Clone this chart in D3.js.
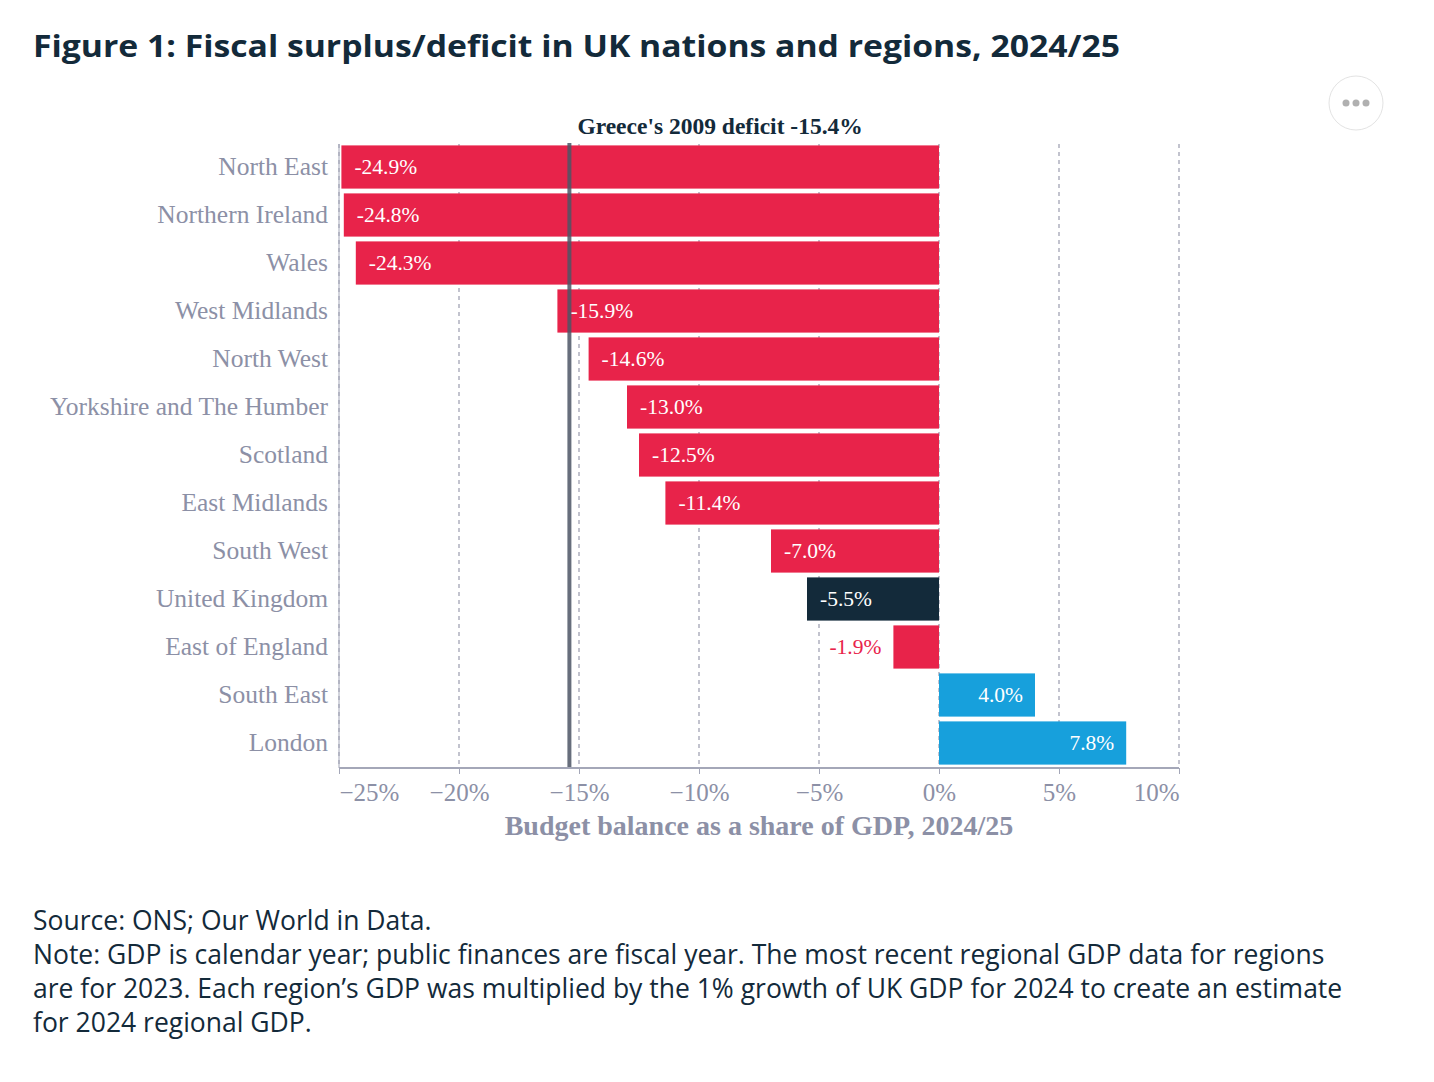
<!DOCTYPE html>
<html><head><meta charset="utf-8">
<script src="https://cdn.jsdelivr.net/npm/d3@7/dist/d3.min.js"></script>
<style>body{margin:0;background:#fff}</style>
</head><body><svg id="c" width="1434" height="1082"></svg>
<script>
// chart data
const regions = ["North East","Northern Ireland","Wales","West Midlands","North West","Yorkshire and The Humber","Scotland","East Midlands","South West","United Kingdom","East of England","South East","London"];
const balance = [-24.9,-24.8,-24.3,-15.9,-14.6,-13.0,-12.5,-11.4,-7.0,-5.5,-1.9,4.0,7.8];
const ticks = [-25,-20,-15,-10,-5,0,5,10];
const greece = -15.4;

const svg = d3.select("#c");
const serif = "'Liberation Serif','Times New Roman',serif";
const sans = "'Open Sans','Noto Sans',sans-serif";
const grey = "#8c90a6";

svg.append("text").attr("x",33).attr("y",57).attr("font-family",sans).attr("font-weight",700)
  .attr("font-size",31).attr("fill","#132a3a").attr("textLength",1087).attr("lengthAdjust","spacingAndGlyphs")
  .text("Figure 1: Fiscal surplus/deficit in UK nations and regions, 2024/25");

// menu button
svg.append("circle").attr("cx",1356).attr("cy",103).attr("r",27).attr("fill","#fff").attr("stroke","#e3e3e3");
[-10,0,10].forEach(d=>svg.append("circle").attr("cx",1356+d).attr("cy",103).attr("r",3.5).attr("fill","#b0b0b0"));

const x = d3.scaleLinear().domain([-25,10]).range([339,1179]);
const y = d3.scaleBand().domain(regions).range([143,767]).paddingInner(0.1).paddingOuter(0.05);

const g = svg.append("g");
g.selectAll("line.grid").data(ticks).join("line")
  .attr("x1",d=>x(d)).attr("x2",d=>x(d)).attr("y1",144).attr("y2",768)
  .attr("stroke","#9a9cae").attr("stroke-width",1.2).attr("stroke-dasharray","4,4");

const colour = (r,v)=> r==="United Kingdom" ? "#132a3a" : v<0 ? "#e8234a" : "#17a0dc";
g.selectAll("rect.bar").data(regions).join("rect")
  .attr("x",(r,i)=>x(Math.min(0,balance[i]))).attr("width",(r,i)=>Math.abs(x(balance[i])-x(0)))
  .attr("y",r=>y(r)).attr("height",y.bandwidth())
  .attr("fill",(r,i)=>colour(r,balance[i]));

g.selectAll("text.val").data(regions).join("text")
  .attr("font-family",serif).attr("font-size",21.5)
  .attr("y",r=>y(r)+y.bandwidth()/2+7)
  .attr("x",(r,i)=>{const v=balance[i]; if(v>0) return x(v)-12; if(v>-3) return x(v)-12; return x(v)+13;})
  .attr("text-anchor",(r,i)=>balance[i]>-3?"end":"start")
  .attr("fill",(r,i)=>(balance[i]<0&&balance[i]>-3)?"#e8234a":"#fff")
  .text((r,i)=>balance[i].toFixed(1)+"%");

// Greece reference
g.append("line").attr("x1",x(greece)).attr("x2",x(greece)).attr("y1",143).attr("y2",768)
  .attr("stroke","#4d5566").attr("stroke-width",4).attr("opacity",0.85);
g.append("text").attr("x",x(greece)+8).attr("y",134).attr("font-family",serif).attr("font-weight",700)
  .attr("font-size",23.5).attr("fill","#132a3a").text("Greece's 2009 deficit -15.4%");

// axes
svg.append("line").attr("x1",339).attr("x2",1179).attr("y1",768).attr("y2",768).attr("stroke","#a4a7b8").attr("stroke-width",2);
svg.append("line").attr("x1",339).attr("x2",339).attr("y1",144).attr("y2",768).attr("stroke","#a4a7b8").attr("stroke-width",1);
const xa = svg.append("g").attr("transform","translate(0,768)").call(d3.axisBottom(x).tickValues(ticks).tickSize(6).tickFormat(d=>d+"%"));
xa.select(".domain").remove();
xa.selectAll("line").attr("stroke","#a4a7b8");
xa.selectAll("text").attr("font-family",serif).attr("font-size",25).attr("fill",grey).attr("dy","0.95em")
  .attr("text-anchor",(d,i)=>i===0?"start":i===ticks.length-1?"end":"middle")
  .text(d=>(d<0?"\u2212"+(-d):d)+"%");

svg.append("text").attr("x",759).attr("y",835).attr("text-anchor","middle").attr("font-family",serif)
  .attr("font-weight",700).attr("font-size",28).attr("fill",grey).text("Budget balance as a share of GDP, 2024/25");

const ya = svg.append("g").attr("transform","translate(339,0)").call(d3.axisLeft(y).tickSize(0).tickPadding(11));
ya.select(".domain").remove();
ya.selectAll("text").attr("font-family",serif).attr("font-size",25.5).attr("fill",grey).attr("dy","0.3em");

const notes = ["Source: ONS; Our World in Data.",
 "Note: GDP is calendar year; public finances are fiscal year. The most recent regional GDP data for regions",
 "are for 2023. Each region\u2019s GDP was multiplied by the 1% growth of UK GDP for 2024 to create an estimate",
 "for 2024 regional GDP."];
svg.selectAll("text.note").data(notes).join("text").attr("x",33).attr("y",(d,i)=>930+i*34)
  .attr("font-family",sans).attr("font-size",26.5).attr("fill","#132a3a").text(d=>d);
</script></body></html>
